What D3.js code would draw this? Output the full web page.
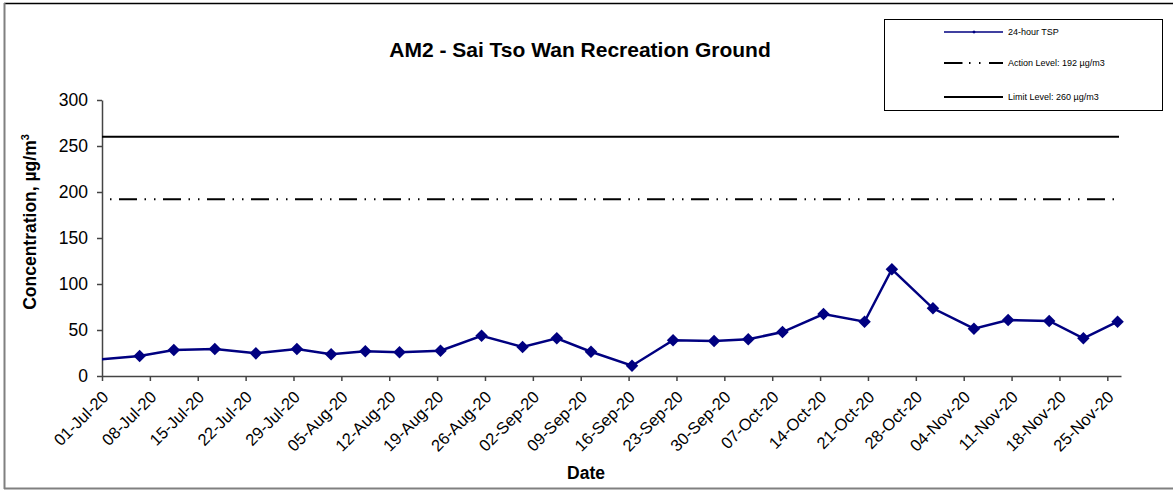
<!DOCTYPE html>
<html lang="en">
<head>
    <meta charset="UTF-8">
    <script src="https://cdn.jsdelivr.net/npm/d3@7"></script>
    <title>AM2 - Sai Tso Wan Recreation Ground</title>
    <style>
        body { margin: 0; background: #fff; }
        svg { display: block; font-family: Arial, "Liberation Sans", sans-serif; }
    </style>
</head>
<body>
    <svg width="1173" height="491"></svg>

    <script>
        // sampling dates (first one sits just left of the axis and gets clipped)
        const dates = ['2020-06-30', '2020-07-06', '2020-07-11', '2020-07-17', '2020-07-23', '2020-07-29',
            '2020-08-03', '2020-08-08', '2020-08-13', '2020-08-19', '2020-08-25', '2020-08-31',
            '2020-09-05', '2020-09-10', '2020-09-16', '2020-09-22', '2020-09-28', '2020-10-03',
            '2020-10-08', '2020-10-14', '2020-10-20', '2020-10-24', '2020-10-30', '2020-11-05',
            '2020-11-10', '2020-11-16', '2020-11-21', '2020-11-26'];
        // 24-hour TSP, µg/m3
        const tsp = [18, 21.7, 28.3, 29.3, 24.6, 29.3, 23.6, 26.8, 25.7, 27.5, 43.8, 31.5,
            41, 26.4, 11.2, 38.8, 38, 39.9, 47.8, 67.4, 59, 116, 73.6, 51.4,
            60.9, 59.8, 41, 59];
        const actionLevel = 192;
        const limitLevel = 260;
        const yTicks = [0, 50, 100, 150, 200, 250, 300];
        const legendLabels = ['24-hour TSP', 'Action Level: 192 µg/m3', 'Limit Level: 260 µg/m3'];

        const svg = d3.select('svg');
        const parse = d3.timeParse('%Y-%m-%d');
        const fmt = d3.timeFormat('%d-%b-%y');

        // plot area
        const plot = { left: 102, right: 1121, top: 100, bottom: 376 };

        // Excel style date axis: each point sits in the middle of its day
        const data = dates.map((d, i) => ({ date: d3.timeHour.offset(parse(d), 12), value: tsp[i] }));

        const xScale = d3.scaleTime()
            .domain([parse('2020-07-01'), parse('2020-11-27')])
            .range([plot.left, plot.right]);
        const yScale = d3.scaleLinear()
            .domain([0, 300])
            .range([plot.bottom, plot.top]);

        // page border (top black, left & bottom grey)
        svg.append('line').attr('x1', 4).attr('x2', 1173).attr('y1', 3.5).attr('y2', 3.5)
            .attr('stroke', '#000').attr('stroke-width', 1.5);
        svg.append('line').attr('x1', 4.5).attr('x2', 4.5).attr('y1', 3).attr('y2', 489)
            .attr('stroke', '#808080').attr('stroke-width', 2);
        svg.append('line').attr('x1', 4).attr('x2', 1173).attr('y1', 488.5).attr('y2', 488.5)
            .attr('stroke', '#808080').attr('stroke-width', 2);

        // title
        svg.append('text')
            .attr('x', 580).attr('y', 57)
            .attr('text-anchor', 'middle')
            .attr('font-size', 21).attr('font-weight', 'bold')
            .text('AM2 - Sai Tso Wan Recreation Ground');

        // axes
        const xAxis = d3.axisBottom(xScale)
            .tickValues(d3.range(22).map(i => d3.timeDay.offset(parse('2020-07-01'), i * 7)))
            .tickFormat(fmt)
            .tickSizeInner(5).tickSizeOuter(0);
        const yAxis = d3.axisLeft(yScale)
            .tickValues(yTicks)
            .tickSizeInner(5).tickSizeOuter(0);

        const gx = svg.append('g')
            .attr('transform', `translate(0, ${plot.bottom})`)
            .call(xAxis);
        gx.select('.domain').attr('stroke', '#444').attr('stroke-width', 1.5);
        gx.selectAll('.tick line').attr('stroke', '#444').attr('stroke-width', 1.5);
        gx.selectAll('.tick text')
            .attr('font-size', 16.5).attr('font-family', 'Arial, "Liberation Sans", sans-serif')
            .attr('fill', '#000')
            .attr('text-anchor', 'end')
            .attr('dy', null)
            .attr('y', null)
            .attr('transform', 'translate(7, 22) rotate(-45)');

        const gy = svg.append('g')
            .attr('transform', `translate(${plot.left}, 0)`)
            .call(yAxis);
        gy.select('.domain').attr('stroke', '#444').attr('stroke-width', 1.5);
        gy.selectAll('.tick line').attr('stroke', '#444').attr('stroke-width', 1.5);
        gy.selectAll('.tick text')
            .attr('font-size', 17.5).attr('font-family', 'Arial, "Liberation Sans", sans-serif')
            .attr('fill', '#000')
            .attr('x', -14);

        // axis titles
        svg.append('text')
            .attr('x', 586).attr('y', 479)
            .attr('text-anchor', 'middle')
            .attr('font-size', 17.5).attr('font-weight', 'bold')
            .text('Date');
        const yt = svg.append('text')
            .attr('transform', 'translate(36, 222) rotate(-90)')
            .attr('text-anchor', 'middle')
            .attr('font-size', 17.5).attr('font-weight', 'bold');
        yt.append('tspan').text('Concentration, µg/m');
        yt.append('tspan').attr('font-size', 11).attr('dy', -7).text('3');

        // level lines
        const actionDash = '18,7.5,1.5,8,1.5,7.5';
        svg.append('line')
            .attr('x1', plot.left).attr('x2', 1119)
            .attr('y1', yScale(limitLevel)).attr('y2', yScale(limitLevel))
            .attr('stroke', '#000').attr('stroke-width', 2);
        svg.append('line')
            .attr('x1', plot.left).attr('x2', 1119)
            .attr('y1', yScale(actionLevel)).attr('y2', yScale(actionLevel))
            .attr('stroke', '#000').attr('stroke-width', 2)
            .attr('stroke-dasharray', actionDash)
            .attr('stroke-dashoffset', 27);

        // clip so the first segment starts at the axis
        svg.append('clipPath').attr('id', 'plotClip')
            .append('rect')
            .attr('x', plot.left).attr('y', 0)
            .attr('width', plot.right - plot.left + 10).attr('height', plot.bottom + 1);

        const line = d3.line()
            .x(d => xScale(d.date))
            .y(d => yScale(d.value));

        const series = svg.append('g').attr('clip-path', 'url(#plotClip)');
        series.append('path')
            .datum(data)
            .attr('fill', 'none')
            .attr('stroke', '#000080')
            .attr('stroke-width', 2.5)
            .attr('d', line);

        const diamond = d3.symbol().type(d3.symbolDiamond2).size(100);
        series.selectAll('.marker')
            .data(data.filter(d => d.date >= xScale.domain()[0]))
            .enter()
            .append('path')
            .attr('class', 'marker')
            .attr('transform', d => `translate(${xScale(d.date)}, ${yScale(d.value)})`)
            .attr('d', diamond)
            .attr('fill', '#000080');

        // legend
        const legend = svg.append('g');
        legend.append('rect')
            .attr('x', 884.5).attr('y', 19.5)
            .attr('width', 278).attr('height', 91)
            .attr('fill', '#fff').attr('stroke', '#000').attr('stroke-width', 1);
        const rows = [32, 63, 97];
        legendLabels.forEach((label, i) => {
            const l = legend.append('line')
                .attr('x1', 944).attr('x2', 1003)
                .attr('y1', rows[i]).attr('y2', rows[i])
                .attr('stroke', i === 0 ? '#000080' : '#000')
                .attr('stroke-width', i === 0 ? 1.5 : 2);
            if (i === 1) l.attr('stroke-dasharray', '18.5,6.5,1.5,8.5,1.5,8.5');
            if (i === 0) {
                legend.append('path')
                    .attr('transform', `translate(974, ${rows[i]})`)
                    .attr('d', d3.symbol().type(d3.symbolDiamond2).size(8))
                    .attr('fill', '#000080');
            }
            legend.append('text')
                .attr('x', 1008).attr('y', rows[i])
                .attr('dy', '0.35em')
                .attr('font-size', 9)
                .text(label);
        });
    </script>
</body>
</html>
